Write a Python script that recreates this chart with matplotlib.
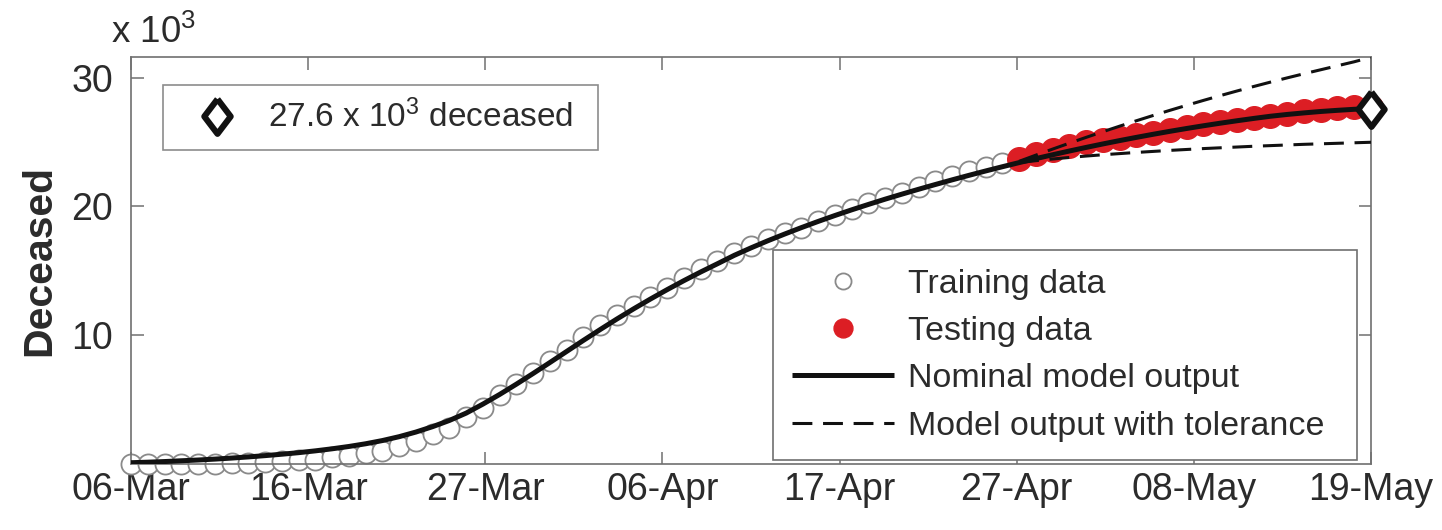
import matplotlib
matplotlib.use("Agg")
import matplotlib.pyplot as plt
import numpy as np

plt.rcParams['font.family'] = ['Liberation Sans', 'DejaVu Sans']
plt.rcParams['mathtext.fontset'] = 'custom'
plt.rcParams['mathtext.rm'] = 'Liberation Sans'
plt.rcParams['mathtext.it'] = 'Liberation Sans:italic'
plt.rcParams['mathtext.bf'] = 'Liberation Sans:bold'

# ---------------- data (thousands of deceased) ----------------
tick_labels = ['06-Mar', '16-Mar', '27-Mar', '06-Apr', '17-Apr', '27-Apr', '08-May', '19-May']
n_days = 74

train_days = list(range(0, 53))
train_vals = [0.003, 0.005, 0.010, 0.017, 0.028, 0.035, 0.054, 0.084, 0.133, 0.195,
              0.289, 0.342, 0.533, 0.623, 0.830, 1.043, 1.375, 1.772, 2.311, 2.808,
              3.647, 4.365, 5.35, 6.20, 7.10, 8.00, 8.85, 9.868, 10.773, 11.573,
              12.294, 12.991, 13.693, 14.419, 15.120, 15.764, 16.344, 16.908, 17.483, 17.906,
              18.318, 18.855, 19.304, 19.761, 20.248, 20.653, 21.067, 21.500, 21.937, 22.341,
              22.713, 23.046, 23.356]

test_days = list(range(53, 75))
test_vals = [23.672, 24.049, 24.409, 24.684, 24.962, 25.182, 25.346, 25.521, 25.735, 25.964,
             26.185, 26.389, 26.550, 26.683, 26.832, 27.012, 27.213, 27.390, 27.511, 27.607,
             27.680, 27.744]

model_days = list(range(0, 75))
model_vals = [0.10, 0.14, 0.19, 0.25, 0.31, 0.38, 0.46, 0.55, 0.65, 0.76,
              0.88, 1.02, 1.18, 1.36, 1.57, 1.82, 2.12, 2.48, 2.90, 3.38,
              3.95, 4.65, 5.40, 6.20, 7.03, 7.88, 8.74, 9.60, 10.44, 11.26,
              12.05, 12.81, 13.54, 14.24, 14.91, 15.55, 16.20, 16.78, 17.33, 17.85,
              18.35, 18.83, 19.29, 19.73, 20.15, 20.56, 20.95, 21.33, 21.70, 22.06,
              22.41, 22.75, 23.08, 23.40, 23.71, 24.01, 24.30, 24.58, 24.85, 25.11,
              25.36, 25.60, 25.83, 26.05, 26.26, 26.46, 26.65, 26.83, 27.00, 27.14,
              27.26, 27.37, 27.46, 27.54, 27.60]

tol_days = list(range(53, 75))
tol_upper = [23.50, 23.98, 24.45, 24.91, 25.36, 25.80, 26.23, 26.65, 27.06, 27.46,
             27.85, 28.23, 28.60, 28.96, 29.31, 29.65, 29.98, 30.30, 30.61, 30.92,
             31.23, 31.58]
tol_lower = [23.40, 23.55, 23.68, 23.80, 23.91, 24.01, 24.10, 24.19, 24.27, 24.35,
             24.42, 24.49, 24.55, 24.61, 24.67, 24.72, 24.77, 24.82, 24.86, 24.90,
             24.94, 24.98]

final_day = 74
final_value = 27.6
y_max = 31.6

# ---------------- figure ----------------
fig = plt.figure(figsize=(14.42, 5.30), dpi=100)
ax = fig.add_axes([131 / 1442, 66 / 530, 1240 / 1442, 407 / 530])

gray = '#8a8a8a'
red = '#DC1E24'
txt = '#2b2b2b'
diamond = [(0, 1), (0.76, 0), (0, -1), (-0.76, 0), (0, 1)]

h_train, = ax.plot(train_days, train_vals, linestyle='none', marker='o', ms=14.5,
                   mfc='white', mec=gray, mew=1.3, clip_on=False, zorder=2,
                   label='Training data')
h_test, = ax.plot(test_days, test_vals, linestyle='none', marker='o', ms=17,
                  mfc=red, mec=red, mew=1.0, clip_on=False, zorder=2,
                  label='Testing data')
h_model, = ax.plot(model_days, model_vals, color='#111111', lw=3.6, zorder=3,
                   solid_capstyle='butt', label='Nominal model output')
h_tol, = ax.plot(tol_days, tol_upper, color='#111111', lw=2.2, dashes=(6.5, 3.5),
                 zorder=3, label='Model output with tolerance')
ax.plot(tol_days, tol_lower, color='#111111', lw=2.2, dashes=(6.5, 3.5), zorder=3)
h_fin, = ax.plot([final_day], [final_value], linestyle='none', marker=diamond, ms=25,
                 mfc='white', mec='#111111', mew=4.4, clip_on=False, zorder=5)

ax.set_xlim(0, n_days)
ax.set_ylim(0, y_max)
ax.set_xticks(np.linspace(0, n_days, len(tick_labels)))
ax.set_xticklabels(tick_labels)
ax.set_yticks([10, 20, 30])
ax.set_yticklabels(['10', '20', '30'])

ax.tick_params(axis='both', direction='in', length=9, width=1.1, color='#707070',
               labelsize=27, labelcolor=txt, top=True, right=True)
ax.tick_params(axis='x', pad=6)
ax.tick_params(axis='y', pad=13)
for s in ax.spines.values():
    s.set_color('#707070')
    s.set_linewidth(1.2)

ax.set_ylabel('Deceased', fontsize=29.5, fontweight='bold', color=txt)
ax.yaxis.set_label_coords(-0.059, 0.5)

ax.text(-0.016, 1.015, r'x 10$^{3}$', transform=ax.transAxes, fontsize=26.5,
        color=txt, ha='left', va='bottom')

leg1 = ax.legend([h_fin], [r'27.6 x 10$^{3}$ deceased'], loc='upper left',
                 bbox_to_anchor=(0.026, 0.931, 0.351, 0.0), mode='expand',
                 fontsize=24, frameon=True, fancybox=False, edgecolor='#707070',
                 borderpad=0.45, handlelength=2.3, handletextpad=0.4,
                 borderaxespad=0.0, labelcolor=txt)
leg1.get_frame().set_linewidth(1.2)
ax.add_artist(leg1)

leg2 = ax.legend([h_train, h_test, h_model, h_tol],
                 ['Training data', 'Testing data', 'Nominal model output',
                  'Model output with tolerance'],
                 loc='upper left', bbox_to_anchor=(0.518, 0.526, 0.471, 0.0),
                 mode='expand', fontsize=24.5, frameon=True, fancybox=False,
                 edgecolor='#707070', borderpad=0.55, labelspacing=0.48,
                 handlelength=3.0, handletextpad=0.42, borderaxespad=0.0,
                 labelcolor=txt, framealpha=1, markerscale=0.8)
leg2.get_frame().set_linewidth(1.2)

fig.savefig('out.png', dpi=100)
